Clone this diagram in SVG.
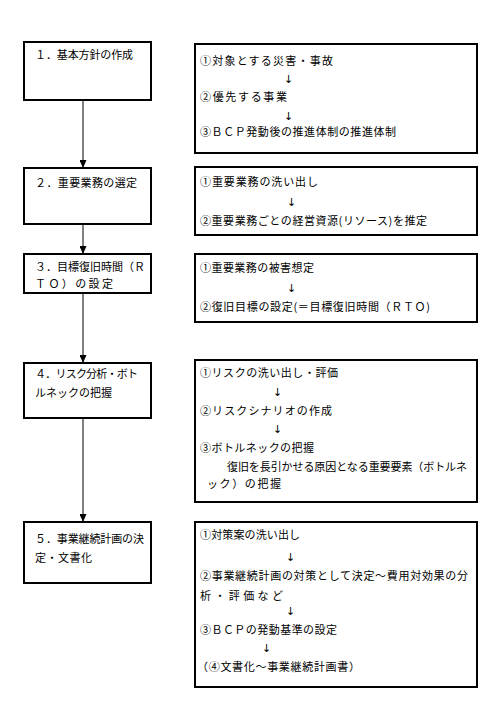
<svg xmlns="http://www.w3.org/2000/svg" width="500" height="710" viewBox="0 0 500 710">
<style>
.box{fill:#fff;stroke:#000;stroke-width:2}
text{font-family:"Noto Sans CJK JP","Noto Sans",sans-serif;font-size:11px;fill:#000}
text.a{font-family:"DejaVu Sans",sans-serif;font-size:11px}
.line{stroke:#000;stroke-width:1;fill:none}
</style>
<defs>
<marker id="ah" viewBox="0 0 8 7" refX="8" refY="3.5" markerWidth="8" markerHeight="7" markerUnits="userSpaceOnUse" orient="auto">
<path d="M0,0 L8,3.5 L0,7 Z" fill="#000"/>
</marker>
</defs>
<rect width="500" height="710" fill="#fff"/>
<g id="connectors">
<line class="line" x1="83" y1="100" x2="83" y2="168" marker-end="url(#ah)"/>
<line class="line" x1="83" y1="224" x2="83" y2="254" marker-end="url(#ah)"/>
<line class="line" x1="83" y1="293" x2="83" y2="363" marker-end="url(#ah)"/>
<line class="line" x1="83" y1="418" x2="83" y2="522" marker-end="url(#ah)"/>
</g>
<g id="step1">
<rect class="box" x="24" y="42" width="127" height="58"/>
<text x="35" y="59" textLength="98">１．基本方針の作成</text>
</g>
<g id="step2">
<rect class="box" x="24" y="168" width="127" height="56"/>
<text x="35" y="187" textLength="102">２．重要業務の選定</text>
</g>
<g id="step3">
<rect class="box" x="24" y="254" width="127" height="39"/>
<text x="35" y="271" textLength="110">３．目標復旧時間（Ｒ</text>
<text x="35" y="288" textLength="78">ＴＯ）の設定</text>
</g>
<g id="step4">
<rect class="box" x="24" y="363" width="127" height="55"/>
<text x="35" y="378" textLength="103">４．リスク分析・ボト</text>
<text x="35" y="397" textLength="77">ルネックの把握</text>
</g>
<g id="step5">
<rect class="box" x="24" y="522" width="127" height="61"/>
<text x="35" y="543" textLength="109">５．事業継続計画の決</text>
<text x="35" y="562" textLength="57">定・文書化</text>
</g>
<g id="detail1">
<rect class="box" x="195" y="44" width="282" height="109"/>
<text x="200" y="65" textLength="133">①対象とする災害・事故</text>
<text class="a" x="284" y="83">↓</text>
<text x="200" y="101" textLength="87">②優先する事業</text>
<text class="a" x="284" y="120">↓</text>
<text x="200" y="136" textLength="196">③ＢＣＰ発動後の推進体制の推進体制</text>
</g>
<g id="detail2">
<rect class="box" x="195" y="167" width="282" height="68"/>
<text x="200" y="186" textLength="118">①重要業務の洗い出し</text>
<text class="a" x="287" y="206">↓</text>
<text x="200" y="225" textLength="227">②重要業務ごとの経営資源(リソース)を推定</text>
</g>
<g id="detail3">
<rect class="box" x="195" y="254" width="282" height="68"/>
<text x="200" y="272" textLength="114">①重要業務の被害想定</text>
<text class="a" x="287" y="292">↓</text>
<text x="200" y="311" textLength="230">②復旧目標の設定(＝目標復旧時間（ＲＴＯ)</text>
</g>
<g id="detail4">
<rect class="box" x="195" y="360" width="282" height="142"/>
<text x="200" y="377" textLength="138">①リスクの洗い出し・評価</text>
<text class="a" x="273" y="396">↓</text>
<text x="200" y="415" textLength="132">②リスクシナリオの作成</text>
<text class="a" x="273" y="433">↓</text>
<text x="200" y="452" textLength="114">③ボトルネックの把握</text>
<text x="227" y="471" textLength="240">復旧を長引かせる原因となる重要要素（ボトルネ</text>
<text x="207" y="488" textLength="74">ック）の把握</text>
</g>
<g id="detail5">
<rect class="box" x="195" y="522" width="282" height="165"/>
<text x="200" y="539" textLength="100">①対策案の洗い出し</text>
<text class="a" x="286" y="561">↓</text>
<text x="200" y="580" textLength="268">②事業継続計画の対策として決定～費用対効果の分</text>
<text x="200" y="600" textLength="83">析・評価など</text>
<text class="a" x="286" y="615">↓</text>
<text x="200" y="634" textLength="137">③ＢＣＰの発動基準の設定</text>
<text class="a" x="262" y="652">↓</text>
<text x="197" y="671" textLength="163">（④文書化～事業継続計画書）</text>
</g>
</svg>
